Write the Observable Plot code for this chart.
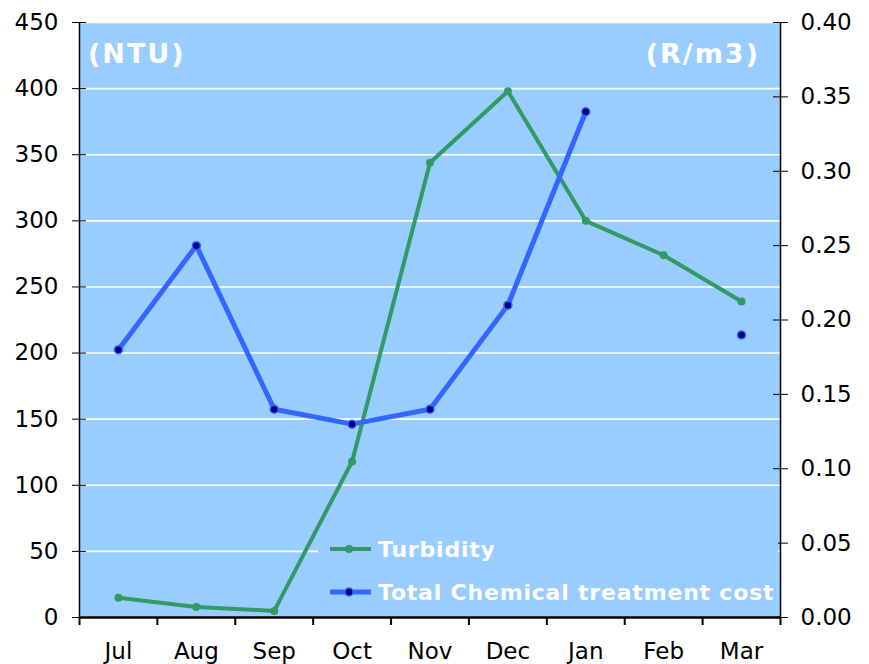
<!DOCTYPE html>
<html>
<head>
<meta charset="utf-8">
<script src="https://cdn.jsdelivr.net/npm/d3@7"></script>
<script src="https://cdn.jsdelivr.net/npm/@observablehq/plot@0.6"></script>
<style>
  html, body { margin: 0; padding: 0; background: #fff; }
  #wrap { position: relative; width: 869px; height: 664px; font-family: "DejaVu Sans", Verdana, sans-serif; }
  .unit { position: absolute; color: #fff; font-weight: bold; font-size: 27px; letter-spacing: 2px; line-height: 1; white-space: nowrap; }
  #legend { position: absolute; left: 318px; top: 535px; width: 460px; height: 80px; background: #99CCFF; }
  .item { position: absolute; left: 12px; height: 30px; display: flex; align-items: center; color: #fff; font-weight: bold; font-size: 22px; letter-spacing: 0.8px; white-space: nowrap; }
  .item svg { margin-right: 7px; }
</style>
</head>
<body>
<div id="wrap"></div>
<script>
const months = ["Jul", "Aug", "Sep", "Oct", "Nov", "Dec", "Jan", "Feb", "Mar"];
const turbidity = [15, 8, 5, 118, 344, 398, 300, 274, 239];
const cost = [0.18, 0.25, 0.14, 0.13, 0.14, 0.21, 0.34, null, 0.19];
const ntuTicks = [0, 50, 100, 150, 200, 250, 300, 350, 400, 450];
const costTicks = [0, 0.05, 0.10, 0.15, 0.20, 0.25, 0.30, 0.35, 0.40];
const seriesNames = ["Turbidity", "Total Chemical treatment cost"];
const colors = { turb: "#339966", cost: "#3366FF", costDot: "#000080", bg: "#99CCFF" };

const k = 450 / 0.40; // right axis -> left axis units
const data = months.map((m, i) => ({ month: m, pos: i + 0.5, turb: turbidity[i], cost: cost[i] }));
const costY = d => d.cost == null ? NaN : d.cost * k;
const costTickPos = costTicks.map(c => c * k);

const chart = Plot.plot({
  width: 869,
  height: 664,
  marginLeft: 79,
  marginRight: 89,
  marginTop: 22,
  marginBottom: 47,
  style: { fontFamily: "DejaVu Sans, Verdana, sans-serif", fontSize: "23px", color: "#000", background: "#fff", overflow: "visible" },
  x: { type: "linear", domain: [0, months.length] },
  y: { domain: [0, 450] },
  marks: [
    Plot.frame({ fill: colors.bg, stroke: "none" }),
    Plot.gridY(ntuTicks.slice(1), { stroke: "#fff", strokeOpacity: 1, strokeWidth: 1.6 }),
    Plot.axisY(ntuTicks, { anchor: "left", tickSize: 7, tickPadding: 14, tickFormat: d => String(d), label: null, fontSize: 23 }),
    Plot.axisY(ntuTicks, { anchor: "left", tickSize: -7, tickFormat: () => "", label: null }),
    Plot.axisY(costTickPos, { anchor: "right", tickSize: 7, tickPadding: 13, tickFormat: d => (d / k).toFixed(2), label: null, fontSize: 23 }),
    Plot.axisY(costTickPos, { anchor: "right", tickSize: -8, tickFormat: () => "", label: null }),
    Plot.axisX(d3.range(months.length + 1), { anchor: "bottom", tickSize: 8, tickFormat: () => "", label: null, strokeWidth: 2 }),
    Plot.axisX(data.map(d => d.pos), { anchor: "bottom", tickSize: 0, tickPadding: 25, tickFormat: d => months[Math.floor(d)], label: null, fontSize: 23 }),
    Plot.ruleX([0], { stroke: "#000", strokeWidth: 1.5 }),
    Plot.ruleX([months.length], { stroke: "#000", strokeWidth: 1.5 }),
    Plot.ruleY([0], { stroke: "#000", strokeWidth: 2.5 }),
    Plot.line(data, { x: "pos", y: "turb", stroke: colors.turb, strokeWidth: 4 }),
    Plot.dot(data, { x: "pos", y: "turb", r: 4, fill: colors.turb, stroke: "none" }),
    Plot.line(data, { x: "pos", y: costY, stroke: colors.cost, strokeWidth: 5 }),
    Plot.dot(data.filter(d => d.cost != null), { x: "pos", y: costY, r: 4, fill: colors.costDot, stroke: colors.cost, strokeWidth: 1.5 })
  ]
});

const wrap = document.getElementById("wrap");
wrap.appendChild(chart);

function addUnit(text, style) {
  const el = document.createElement("div");
  el.className = "unit";
  el.textContent = text;
  Object.assign(el.style, style);
  wrap.appendChild(el);
}
addUnit("(NTU)", { left: "88px", top: "40px" });
addUnit("(R/m3)", { right: "109px", top: "40px" });

const legend = document.createElement("div");
legend.id = "legend";
const swatches = [
  { stroke: colors.turb, fill: colors.turb, dotStroke: "none", w: 4 },
  { stroke: colors.cost, fill: colors.costDot, dotStroke: colors.cost, w: 5 }
];
seriesNames.forEach((name, i) => {
  const s = swatches[i];
  const item = document.createElement("div");
  item.className = "item";
  item.style.top = (-1 + i * 43) + "px";
  item.innerHTML = `<svg width="41" height="14"><line x1="0" x2="41" y1="7" y2="7" stroke="${s.stroke}" stroke-width="${s.w}"/><circle cx="19" cy="7" r="4" fill="${s.fill}" stroke="${s.dotStroke}" stroke-width="1.5"/></svg><span>${name}</span>`;
  legend.appendChild(item);
});
wrap.appendChild(legend);
</script>
</body>
</html>
